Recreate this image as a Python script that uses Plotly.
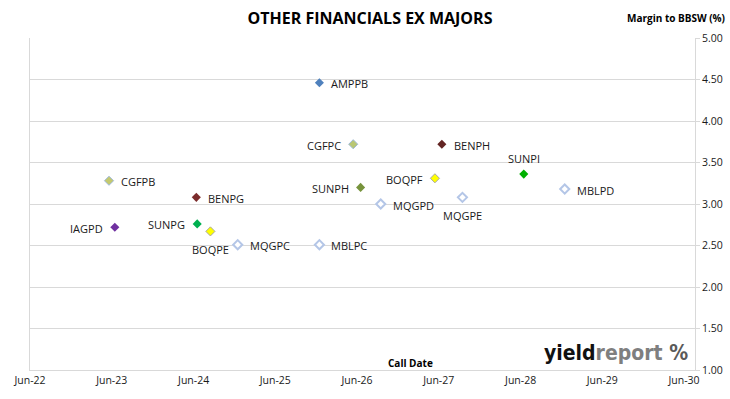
import plotly.graph_objects as go

names = ["AMPPB", "CGFPC", "CGFPB", "SUNPH", "BENPG", "IAGPD", "SUNPG", "BOQPE",
         "MQGPC", "MBLPC", "BENPH", "BOQPF", "MQGPD", "MQGPE", "SUNPI", "MBLPD"]
call_dates = ["2025-12-15", "2026-05-15", "2023-05-20", "2026-06-17", "2024-06-13",
              "2023-06-15", "2024-06-17", "2024-08-15", "2024-12-15", "2025-12-15",
              "2027-06-15", "2027-05-15", "2026-09-15", "2027-09-15", "2028-06-15",
              "2028-12-15"]
margins = [4.46, 3.72, 3.28, 3.20, 3.08, 2.72, 2.76, 2.67,
           2.51, 2.51, 3.72, 3.31, 3.00, 3.08, 3.36, 3.18]

fill_colors = ["#4F81BD", "#B9C774", "#C4C96E", "#77933C", "#7B2C2C", "#7030A0", "#00B050", "#FFFF00",
               "#FFFFFF", "#FFFFFF", "#632523", "#FFFF00", "#FFFFFF", "#FFFFFF", "#00B000", "#FFFFFF"]
line_colors = ["#4F81BD", "#9DB8D9", "#9DB8D9", "#77933C", "#7B2C2C", "#7030A0", "#00B050", "#A6A6A6",
               "#B4C6E7", "#B4C6E7", "#632523", "#A6A6A6", "#B4C6E7", "#B4C6E7", "#00B000", "#B4C6E7"]
line_widths = [0, 1, 1, 0, 0, 0, 0, 1, 2, 2, 0, 1, 2, 2, 0, 2]
marker_sizes = [7, 7, 7, 7, 7, 7, 7, 7, 7, 7, 7, 7, 7, 7, 7, 7]
label_side = ["right", "left", "right", "left", "right", "left", "left", "below",
              "right", "right", "right", "left", "right", "below", "above", "right"]

FONT = "Open Sans"
L, R, T, B = 30, 35, 38, 29
PW, PH = 730 - L - R, 399 - T - B

fig = go.Figure()
fig.add_trace(go.Scatter(
    x=call_dates, y=margins, mode="markers",
    marker=dict(symbol="diamond", size=marker_sizes, color=fill_colors, opacity=1,
                line=dict(color=line_colors, width=line_widths)),
    cliponaxis=False, showlegend=False, text=names, hoverinfo="text+x+y",
))

offsets = {"right": dict(xanchor="left", yanchor="middle", xshift=10, yshift=-1),
           "left": dict(xanchor="right", yanchor="middle", xshift=-10, yshift=-1),
           "below": dict(xanchor="center", yanchor="middle", xshift=0, yshift=-18),
           "above": dict(xanchor="center", yanchor="middle", xshift=0, yshift=16)}

annotations = []
for n, d, m, s in zip(names, call_dates, margins, label_side):
    annotations.append(dict(text=n, x=d, y=m, xref="x", yref="y", showarrow=False,
                            font=dict(family=FONT, size=11, color="#1a1a1a"), **offsets[s]))

annotations += [
    dict(text="<b>Margin to BBSW (%)</b>", xref="paper", yref="paper",
         x=(727 - L) / PW, y=(399 - B - 18) / PH, xanchor="right", yanchor="middle",
         showarrow=False, font=dict(family=FONT, size=10, color="#000000")),
    dict(text="<b>Call Date</b>", xref="paper", yref="paper",
         x=(411 - L) / PW, y=(399 - B - 363) / PH, xanchor="center", yanchor="middle",
         showarrow=False, font=dict(family=FONT, size=10, color="#000000")),
    dict(text="<b><span style='color:#111111'>yield</span><span style='color:#7f7f7f'>report</span>"
              " <span style='color:#5a5a5a'>%</span></b>",
         xref="paper", yref="paper",
         x=(690 - L) / PW, y=(399 - B - 353) / PH, xanchor="right", yanchor="middle",
         showarrow=False, font=dict(family="DejaVu Sans Condensed, DejaVu Sans", size=21)),
]

fig.update_layout(
    width=730, height=399,
    margin=dict(l=L, r=R, t=T, b=B, autoexpand=False),
    paper_bgcolor="white", plot_bgcolor="white",
    font=dict(family=FONT, size=10, color="#1a1a1a"),
    title=dict(text="<b>OTHER FINANCIALS EX MAJORS</b>", x=370/730, xref="container",
               xanchor="center", y=1 - 18/399, yref="container", yanchor="middle",
               font=dict(family=FONT, size=16, color="#000000")),
    xaxis=dict(type="date", range=["2022-06-01", "2030-07-20"], automargin=False,
               tick0="2022-06-01", dtick="M12", tickformat="%b-%y",
               showgrid=False, showline=True, linecolor="#D9D9D9", linewidth=1,
               ticks="", zeroline=False, tickfont=dict(size=10.5)),
    yaxis=dict(side="right", range=[1, 5], dtick=0.5, tickformat=".2f", automargin=False,
               showgrid=True, gridcolor="#D9D9D9", gridwidth=1,
               showline=True, linecolor="#D9D9D9", linewidth=1, mirror=True,
               ticks="outside", ticklen=4, tickcolor="#D9D9D9",
               zeroline=False, tickfont=dict(size=10.5)),
    annotations=annotations,
)

fig.write_html("out.html", config={"displayModeBar": False},
               post_script="document.body.style.margin='0';document.body.style.overflow='hidden';")
